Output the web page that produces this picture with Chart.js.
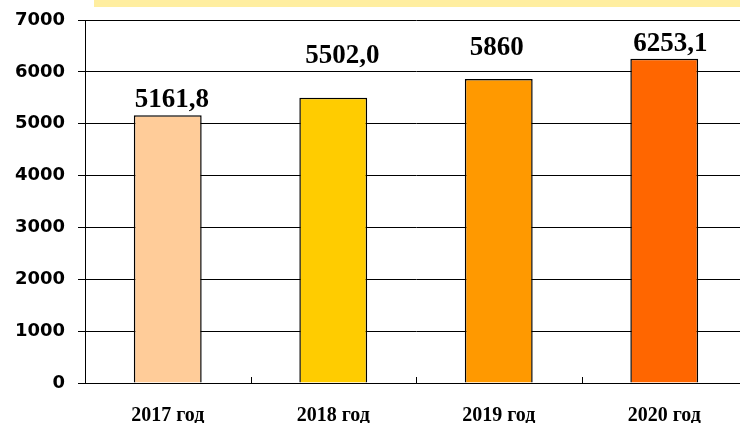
<!DOCTYPE html>
<html lang="ru">
<head>
<meta charset="UTF-8">
<title>Chart</title>
<style>
    html, body {
        margin: 0;
        padding: 0;
        background: #fff;
        overflow: hidden;
    }
    .band {
        position: absolute;
        left: 94px;
        top: 0;
        width: 660px;
        height: 7px;
        background: #ffeea0;
    }
    .wrap {
        position: absolute;
        left: 0;
        top: 0;
        width: 748px;
        height: 423px;
    }
</style>
</head>
<body>
<div class="band"></div>
<div class="wrap"><canvas id="chart"></canvas></div>

<script src="https://cdn.jsdelivr.net/npm/chart.js"></script>
<script>
    const categories = ['2017 год', '2018 год', '2019 год', '2020 год'];
    const values = [5161.8, 5502.0, 5860, 6253.1];
    const valueLabels = ['5161,8', '5502,0', '5860', '6253,1'];
    const barColors = ['#ffcc99', '#ffcc00', '#ff9900', '#ff6600'];
    const yTicks = [0, 1000, 2000, 3000, 4000, 5000, 6000, 7000];

    // the labels in the original were placed by hand, not all at the same gap
    const labelShift = [[4, 8], [9, 35], [-2, 24], [6, 8]];

    const valuePlugin = {
        id: 'valueLabels',
        afterDatasetsDraw(chart) {
            const ctx = chart.ctx;
            const meta = chart.getDatasetMeta(0);
            ctx.save();
            ctx.font = 'bold 27px "Liberation Serif", "Times New Roman", serif';
            ctx.fillStyle = '#000';
            ctx.textAlign = 'center';
            ctx.textBaseline = 'alphabetic';
            meta.data.forEach((bar, i) => {
                ctx.fillText(valueLabels[i], bar.x + labelShift[i][0], bar.y - labelShift[i][1]);
            });
            ctx.restore();
        }
    };

    // short marks between categories, pointing up from the axis
    const betweenTicks = {
        id: 'betweenTicks',
        afterDraw(chart) {
            const x = chart.scales.x;
            const ctx = chart.ctx;
            const bottom = chart.chartArea.bottom;
            ctx.save();
            ctx.strokeStyle = '#000';
            ctx.lineWidth = 1;
            for (let i = 1; i < categories.length; i++) {
                const px = Math.round((x.getPixelForTick(i - 1) + x.getPixelForTick(i)) / 2) + 0.5;
                ctx.beginPath();
                ctx.moveTo(px, bottom);
                ctx.lineTo(px, bottom - 6);
                ctx.stroke();
            }
            ctx.restore();
        }
    };

    new Chart(document.getElementById('chart'), {
        type: 'bar',
        data: {
            labels: categories,
            datasets: [{
                data: values,
                backgroundColor: barColors,
                borderColor: '#000',
                borderWidth: 1.5,
                barPercentage: 0.41,
                categoryPercentage: 1
            }]
        },
        options: {
            responsive: true,
            maintainAspectRatio: false,
            animation: false,
            layout: { padding: { top: 20, right: 1, left: 0, bottom: 0 } },
            plugins: {
                legend: { display: false },
                tooltip: { enabled: false }
            },
            scales: {
                x: {
                    grid: { display: false, drawTicks: false },
                    border: { display: true, color: '#000', width: 1 },
                    ticks: {
                        color: '#000',
                        padding: 21,
                        font: { family: '"Liberation Serif", "Times New Roman", serif', size: 20, weight: 'bold' }
                    },
                    afterFit(scale) {
                        scale.height = 40;
                        scale.paddingLeft = 0;
                        scale.paddingRight = 0;
                    }
                },
                y: {
                    min: 0,
                    max: 7000,
                    afterBuildTicks(scale) {
                        scale.ticks = yTicks.map(v => ({ value: v }));
                    },
                    grid: { color: '#000', lineWidth: 1, drawTicks: true, tickLength: 7 },
                    border: { display: true, color: '#000', width: 1 },
                    ticks: {
                        color: '#000',
                        padding: 13,
                        callback: v => String(v),
                        font: { family: '"DejaVu Sans", Verdana, sans-serif', size: 18, weight: 'bold' }
                    },
                    afterFit(scale) {
                        scale.width = 85;
                        scale.paddingTop = 0;
                        scale.paddingBottom = 0;
                    }
                }
            }
        },
        plugins: [valuePlugin, betweenTicks]
    });
</script>
</body>
</html>
